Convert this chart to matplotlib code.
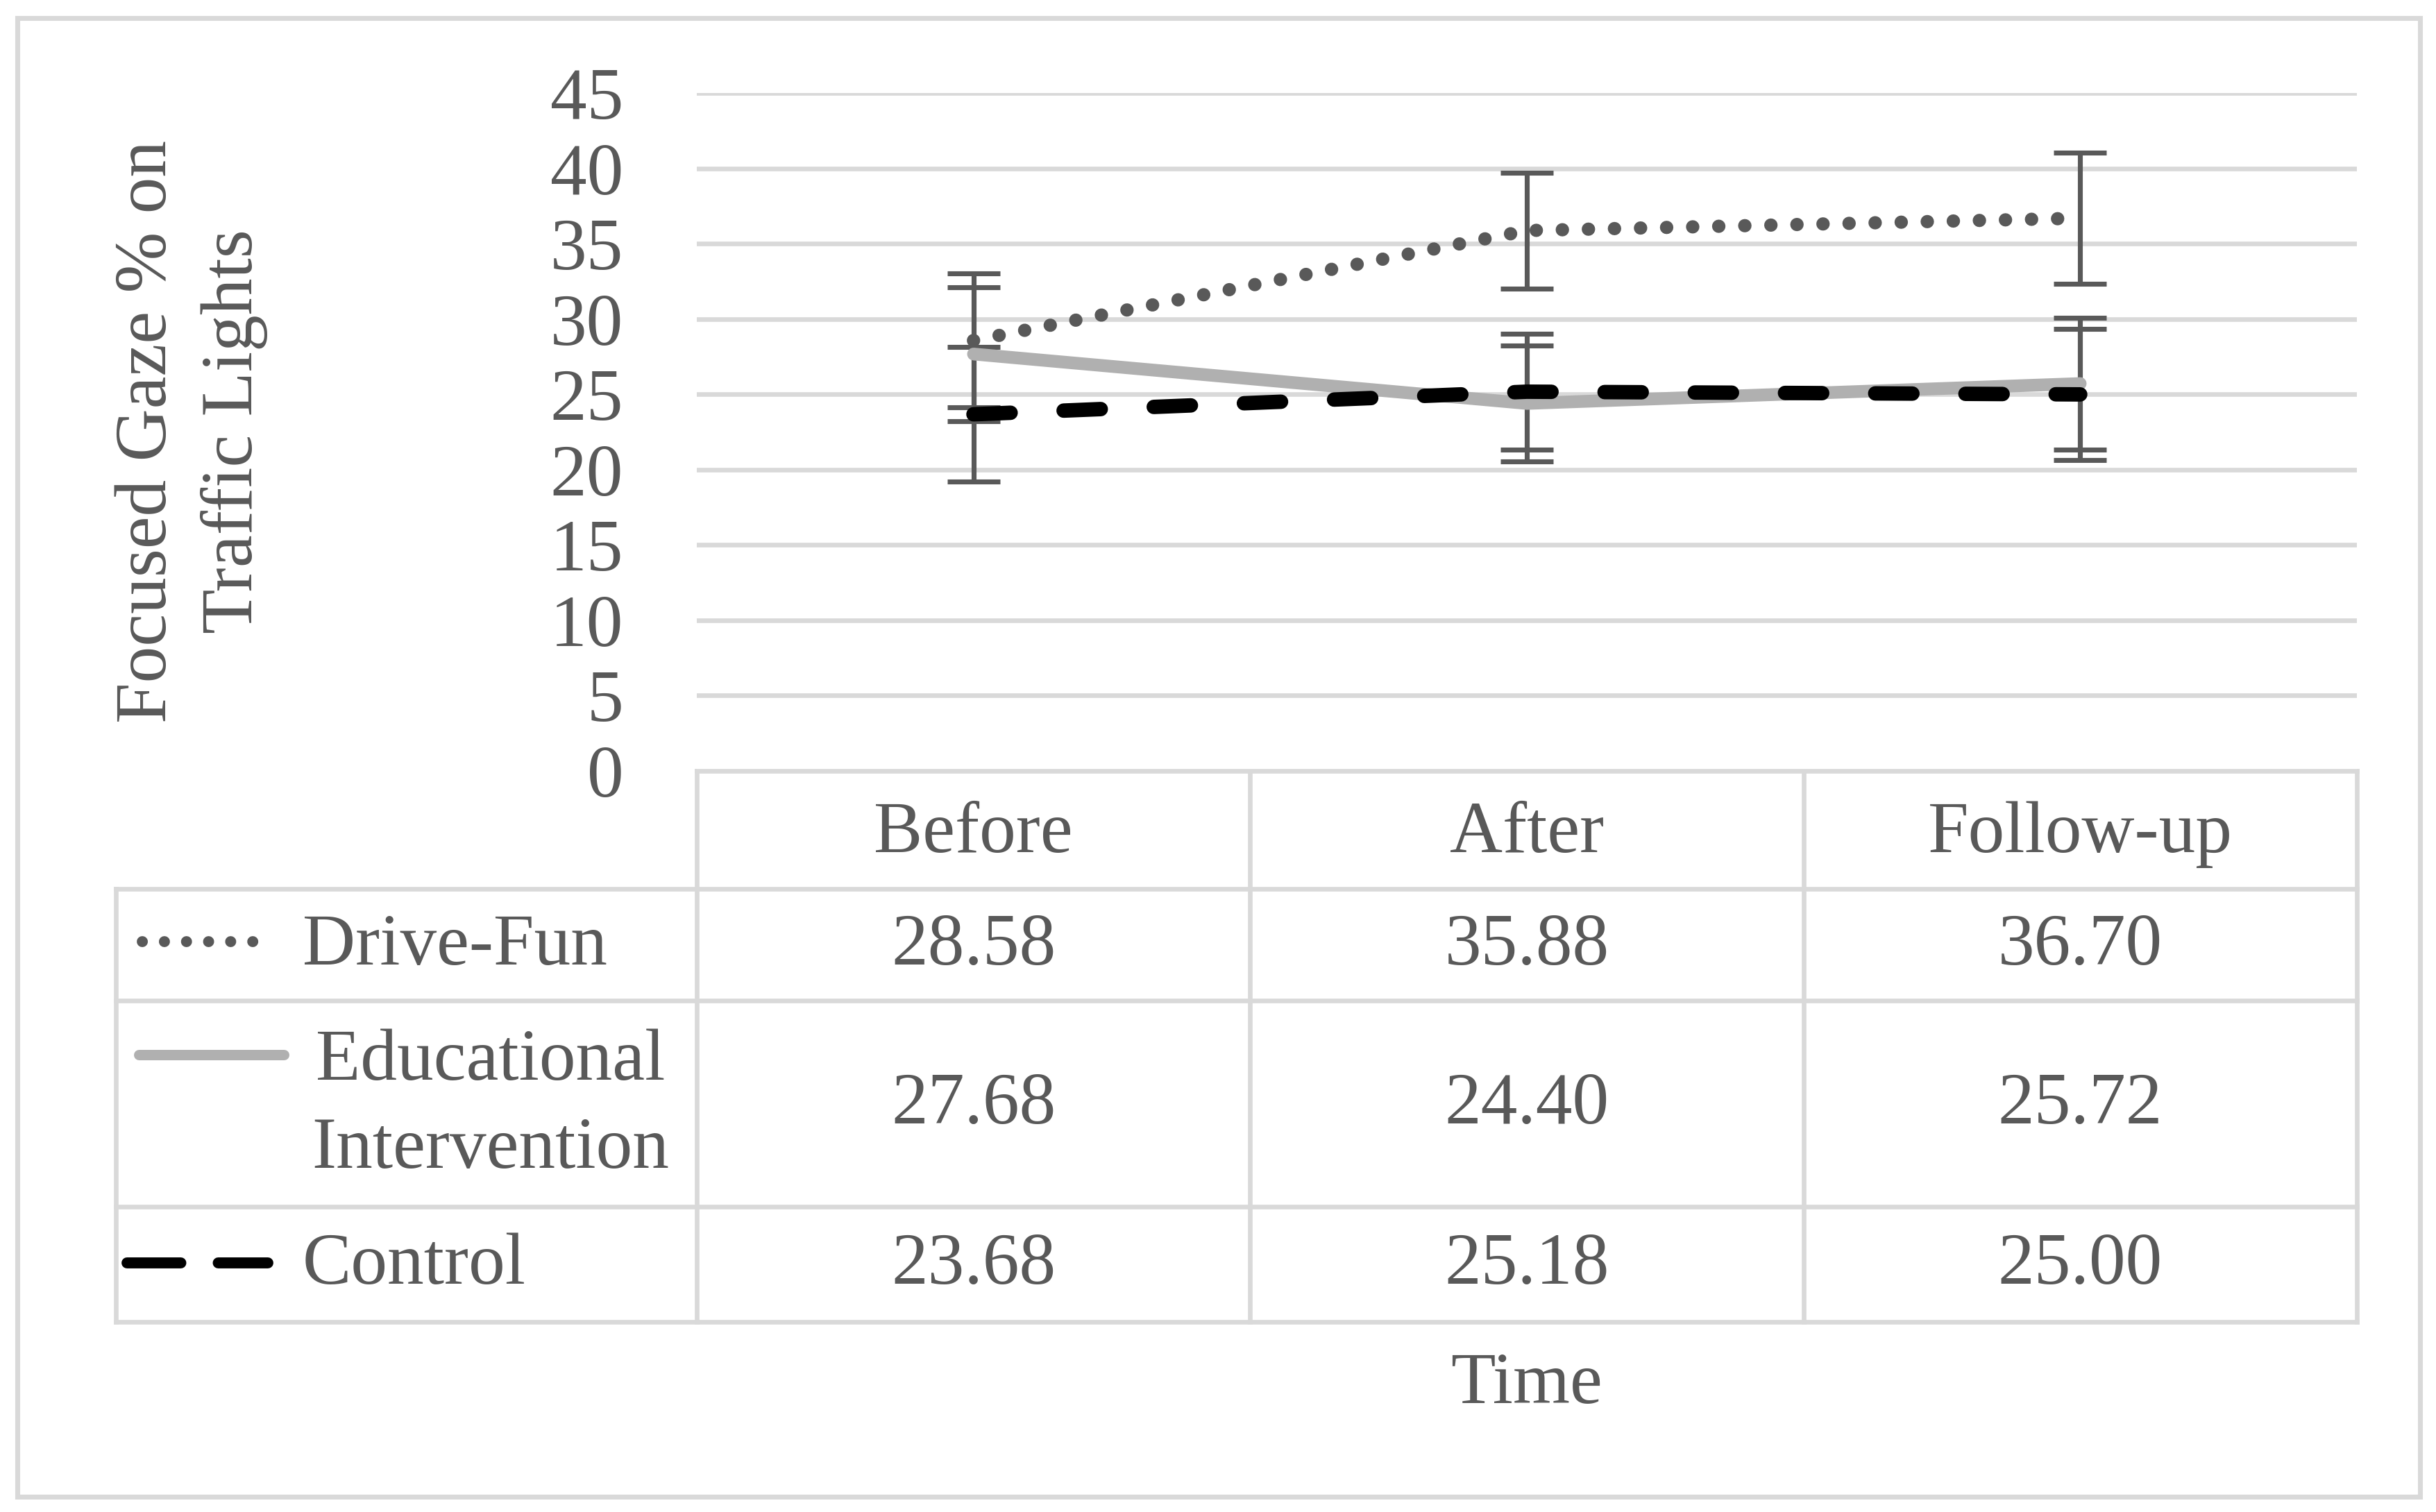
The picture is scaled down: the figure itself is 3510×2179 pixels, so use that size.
import numpy as np
import matplotlib
matplotlib.use("Agg")
import matplotlib.pyplot as plt
from matplotlib.lines import Line2D
from matplotlib.patches import Rectangle

plt.rcParams['font.family'] = ['Liberation Serif', 'DejaVu Serif']

# datos
categories = ["Before", "After", "Follow-up"]
series_names = ["Drive-Fun", "Educational\nIntervention", "Control"]
drive_fun = [28.58, 35.88, 36.70]
educational = [27.68, 24.40, 25.72]
control = [23.68, 25.18, 25.00]
# barras de error (iguales para los tres grupos en cada momento)
err_drive_fun = [4.45, 3.85, 4.37]
err_educational = [4.45, 3.85, 4.37]
err_control = [4.45, 3.85, 4.37]
y_ticks = [0, 5, 10, 15, 20, 25, 30, 35, 40, 45]

W, H = 3510, 2179
DPI = 300
TXT = '#595959'
GRID = '#D9D9D9'
FS = 25.3

fig = plt.figure(figsize=(W / DPI, H / DPI), dpi=DPI)

# area del grafico en pixeles
PL, PR, PT, PB = 1004, 3396, 134.3, 1111
ax = fig.add_axes([PL / W, 1 - PB / H, (PR - PL) / W, (PB - PT) / H])
ax.set_xlim(-0.5, len(categories) - 0.5)
ax.set_ylim(0, 45)
ax.set_yticks(y_ticks)
ax.set_xticks([])
for s in ax.spines.values():
    s.set_visible(False)
ax.yaxis.grid(True, color=GRID, linewidth=1.6)
ax.set_axisbelow(True)
ax.tick_params(axis='y', length=0, pad=25.4, labelsize=FS, labelcolor=TXT)

x = np.arange(len(categories))
styles = [
    dict(color='#595959', lw=4.6, ls=(0, (0.01, 1.95)), dash_capstyle='round'),
    dict(color='#B0B0B0', lw=4.4, ls='-', solid_capstyle='round'),
    dict(color='black', lw=5.0, ls=(0, (2.57, 3.67)), dash_capstyle='round'),
]
values = [drive_fun, educational, control]
errors = [err_drive_fun, err_educational, err_control]

for vals, errs in zip(values, errors):
    ax.errorbar(x, vals, yerr=errs, fmt='none', ecolor='#595959', elinewidth=1.7,
                capsize=9.1, capthick=1.7, zorder=2)
for i, (vals, st) in enumerate(zip(values, styles)):
    ax.plot(x, vals, color=st['color'], linewidth=st['lw'], linestyle=st['ls'],
            dash_capstyle=st.get('dash_capstyle', 'round'),
            solid_capstyle=st.get('solid_capstyle', 'round'), zorder=3 + i)

# capa superpuesta en pixeles para la tabla de datos
ov = fig.add_axes([0, 0, 1, 1], zorder=-1)
ov.set_xlim(0, W)
ov.set_ylim(H, 0)
ov.axis('off')

# marco exterior
ov.add_patch(Rectangle((25, 26), 3487 - 25, 2157 - 26, fill=False, edgecolor=GRID, linewidth=1.7))

col_edges = np.linspace(PL, PR, len(categories) + 1)
col_centers = (col_edges[:-1] + col_edges[1:]) / 2
TL = 167
row_edges = [1281, 1442, 1739, 1905]
row_centers = [(row_edges[i] + row_edges[i + 1]) / 2 for i in range(3)]

lw_t = 1.6
# cabecera
ov.plot([PL, PR], [PB, PB], color=GRID, lw=lw_t)
for xe in col_edges:
    ov.plot([xe, xe], [PB, row_edges[-1]], color=GRID, lw=lw_t)
for ye in row_edges:
    ov.plot([TL, PR], [ye, ye], color=GRID, lw=lw_t)
ov.plot([TL, TL], [row_edges[0], row_edges[-1]], color=GRID, lw=lw_t)

for cx, cat in zip(col_centers, categories):
    ov.text(cx, 1203, cat, ha='center', va='center', fontsize=FS, color=TXT)

for r, vals in enumerate(values):
    for cx, v in zip(col_centers, vals):
        ov.text(cx, row_centers[r] + 3, f"{v:.2f}", ha='center', va='center',
                fontsize=FS, color=TXT)

# claves de leyenda
key_y = [1357, 1520, 1820]
ov.add_line(Line2D([205, 384], [key_y[0]] * 2, color='#595959', lw=3.8,
                   linestyle=(0, (0.01, 2.0)), dash_capstyle='round'))
ov.add_line(Line2D([200, 409], [key_y[1]] * 2, color='#B0B0B0', lw=3.6,
                   solid_capstyle='round'))
ov.add_line(Line2D([183, 386], [key_y[2]] * 2, color='black', lw=3.8,
                   linestyle=(0, (4.9, 3.4)), dash_capstyle='round'))

ov.text(436, row_centers[0] + 3, series_names[0], ha='left', va='center', fontsize=FS, color=TXT)
ov.text(707, row_centers[1] + 4, series_names[1], ha='center', va='center', fontsize=FS,
        color=TXT, multialignment='center', linespacing=1.42)
ov.text(436, row_centers[2] + 3, series_names[2], ha='left', va='center', fontsize=FS, color=TXT)

# titulos de ejes
ov.text(2199, 2022, "Time", ha='center', va='baseline', fontsize=FS, color=TXT)
ov.text(276, 622, "Focused Gaze % on\nTraffic Lights", ha='center', va='center',
        rotation=90, fontsize=FS, color=TXT, linespacing=1.36, multialignment='center')

fig.savefig("out.png", dpi=DPI)
